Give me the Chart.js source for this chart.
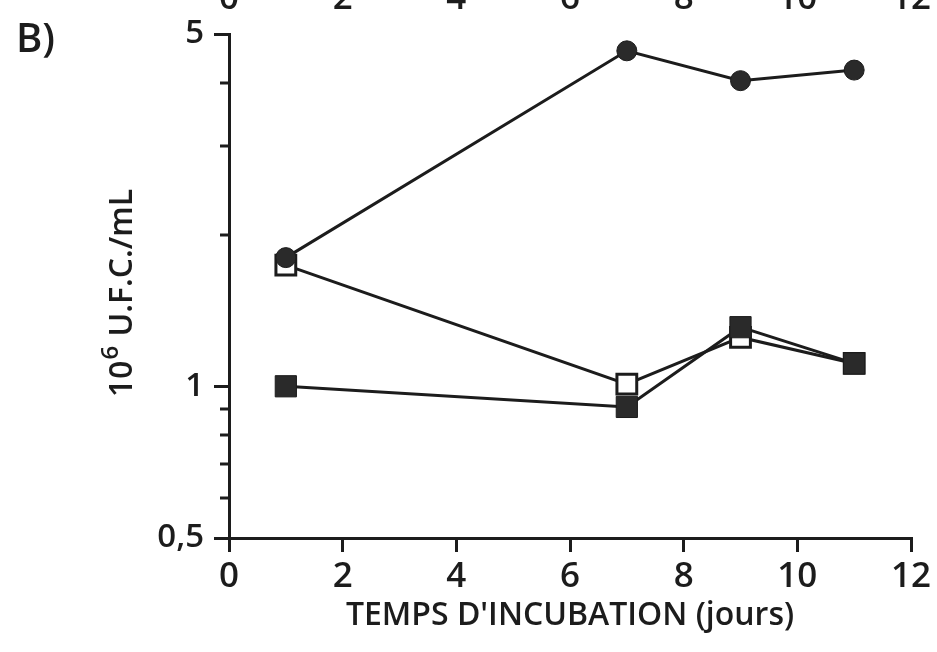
<!DOCTYPE html>
<html>
<head>
<meta charset="utf-8">
<script src="https://cdn.jsdelivr.net/npm/chart.js@4.4.0/dist/chart.umd.min.js"></script>
<style>
  html, body { margin: 0; padding: 0; background: #fff; }
  #wrap { width: 937px; height: 652px; }
</style>
</head>
<body>
<div id="wrap"><canvas id="chart" width="937" height="652"></canvas></div>
<script>
// Données (B)
const days = [1, 7, 9, 11];
const filledCircles = [1.80, 4.63, 4.04, 4.24];
const filledSquares = [1.00, 0.91, 1.31, 1.11];
const openSquares = [1.74, 1.01, 1.25, 1.11];

const xTicks = [0, 2, 4, 6, 8, 10, 12];
const yTicks = [0.5, 1, 5];
const yMinorTicks = [0.6, 0.7, 0.8, 0.9, 2, 3, 4];

const INK = '#1c1c1c';
const FONT = "'Open Sans', 'DejaVu Sans', sans-serif";
const W = '600';

const toPoints = (ys) => days.map((d, i) => ({ x: d, y: ys[i] }));

// petites graduations de l'axe Y, titre Y avec exposant, graduations du panneau du dessus, "B)"
const extras = {
    id: 'extras',
    afterDraw(chart) {
        const ctx = chart.ctx;
        const x = chart.scales.x;
        const y = chart.scales.y;
        ctx.save();
        ctx.strokeStyle = INK;
        ctx.lineWidth = 3;
        yMinorTicks.forEach(v => {
            const py = Math.round(y.getPixelForValue(v));
            ctx.beginPath();
            ctx.moveTo(x.left - 9, py);
            ctx.lineTo(x.left, py);
            ctx.stroke();
        });
        ctx.fillStyle = INK;

        // titre de l'axe Y : 10^6 U.F.C./mL
        ctx.save();
        ctx.translate(132, 293);
        ctx.rotate(-Math.PI / 2);
        const big = W + ' 32px ' + FONT;
        const sup = W + ' 24px ' + FONT;
        ctx.font = big; const w1 = ctx.measureText('10').width;
        ctx.font = sup; const w2 = ctx.measureText('6').width;
        ctx.font = big; const w3 = ctx.measureText(' U.F.C./mL').width;
        let px = -(w1 + w2 + 2 + w3) / 2;
        ctx.textAlign = 'left';
        ctx.textBaseline = 'alphabetic';
        ctx.font = big; ctx.fillText('10', px, 0); px += w1 + 1;
        ctx.font = sup; ctx.fillText('6', px, -14); px += w2 + 1;
        ctx.font = big; ctx.fillText(' U.F.C./mL', px, 0);
        ctx.restore();

        ctx.font = W + ' 35px ' + FONT;
        ctx.textAlign = 'center';
        ctx.textBaseline = 'alphabetic';
        xTicks.forEach(v => {
            ctx.fillText(String(v), x.getPixelForValue(v), 9);
        });
        ctx.textAlign = 'left';
        ctx.font = W + ' 40px ' + FONT;
        ctx.fillText('B)', 16, 52);
        ctx.restore();
    }
};

new Chart(document.getElementById('chart').getContext('2d'), {
    type: 'line',
    data: {
        datasets: [
            { data: toPoints(filledCircles), pointStyle: 'circle', pointRadius: 10,
              backgroundColor: '#2a2a2a', borderColor: INK, pointBorderWidth: 1 },
            { data: toPoints(filledSquares), pointStyle: 'rect', pointRadius: 15,
              backgroundColor: '#2a2a2a', borderColor: INK, pointBorderWidth: 1 },
            { data: toPoints(openSquares), pointStyle: 'rect', pointRadius: 14,
              backgroundColor: '#ffffff', borderColor: INK, pointBorderWidth: 3 }
        ]
    },
    options: {
        responsive: false,
        animation: false,
        layout: { padding: { top: 34, right: 26, left: 0, bottom: 0 } },
        elements: { line: { borderWidth: 3, tension: 0, borderColor: INK } },
        plugins: { legend: { display: false }, tooltip: { enabled: false } },
        scales: {
            x: {
                type: 'linear', min: 0, max: 12,
                afterBuildTicks: s => { s.ticks = xTicks.map(v => ({ value: v })); },
                afterFit: s => { s.height = 114; },
                border: { color: INK, width: 3 },
                grid: { drawOnChartArea: false, color: INK, lineWidth: 3, tickLength: 14 },
                ticks: { color: INK, font: { family: FONT, size: 35, weight: W }, padding: 4, maxRotation: 0 },
                title: { display: true, text: "TEMPS D'INCUBATION (jours)", color: INK,
                         font: { family: FONT, size: 32, weight: W }, padding: { top: 0, bottom: 17 } }
            },
            y: {
                type: 'logarithmic', min: 0.5, max: 5,
                afterBuildTicks: s => { s.ticks = yTicks.map(v => ({ value: v })); },
                afterFit: s => { s.width = 229; },
                border: { color: INK, width: 3 },
                grid: { drawOnChartArea: false, color: INK, lineWidth: 3, tickLength: 15 },
                ticks: { color: INK, font: { family: FONT, size: 33, weight: W }, padding: 10,
                         callback: v => String(v).replace('.', ',') }
            }
        }
    },
    plugins: [extras]
});
</script>
</body>
</html>
